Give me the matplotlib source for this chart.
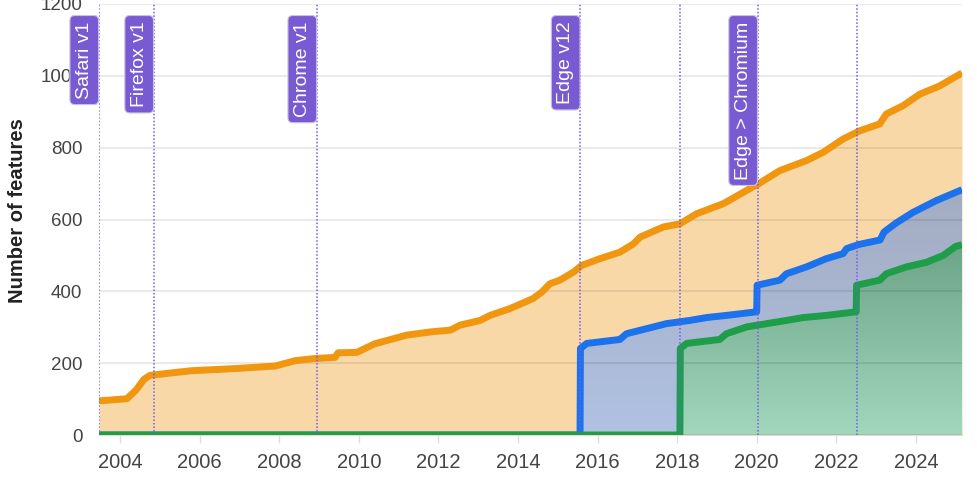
import numpy as np
import matplotlib
matplotlib.use("Agg")
import matplotlib.pyplot as plt
import matplotlib.transforms as mtrans
from matplotlib.colors import to_rgb

plt.rcParams['font.family'] = ['Liberation Sans', 'DejaVu Sans']

# Cumulative feature counts (decimal years)
orange_x = [2003.47, 2004.17, 2004.40, 2004.60, 2004.75, 2005.30, 2005.80, 2006.90,
            2007.90, 2008.40, 2008.90, 2009.40, 2009.48, 2009.95, 2010.40, 2011.20,
            2011.80, 2012.30, 2012.55, 2013.05, 2013.30, 2013.80, 2014.38, 2014.60,
            2014.80, 2015.05, 2015.40, 2015.60, 2016.06, 2016.56, 2016.90, 2017.07,
            2017.65, 2018.07, 2018.49, 2019.16, 2019.75, 2020.04, 2020.58, 2021.25,
            2021.67, 2022.17, 2022.59, 2023.09, 2023.26, 2023.68, 2024.10, 2024.60,
            2025.16]
orange_y = [95, 101, 125, 155, 166, 173, 179, 185,
            192, 207, 213, 216, 229, 230, 254, 278,
            287, 292, 306, 319, 333, 352, 380, 398,
            421, 431, 454, 472, 491, 509, 532, 551,
            579, 588, 616, 644, 681, 699, 736, 764,
            787, 824, 847, 866, 894, 917, 949, 972,
            1008]

blue_x = [2003.47, 2015.56, 2015.57, 2015.73, 2016.56, 2016.73, 2017.23, 2017.73,
          2018.32, 2018.74, 2019.24, 2020.00, 2020.01, 2020.58, 2020.75, 2021.25,
          2021.75, 2022.17, 2022.26, 2022.55, 2023.10, 2023.20, 2023.50, 2023.93,
          2024.52, 2025.16]
blue_y = [0, 0, 241, 255, 266, 282, 296, 310,
          319, 327, 333, 343, 417, 431, 449, 468,
          491, 505, 519, 530, 543, 565, 590, 620,
          653, 683]

green_x = [2003.47, 2018.07, 2018.08, 2018.24, 2019.07, 2019.24, 2019.75, 2020.25,
           2020.75, 2021.17, 2021.75, 2022.50, 2022.51, 2023.09, 2023.26, 2023.76,
           2024.27, 2024.69, 2025.00, 2025.16]
green_y = [0, 0, 241, 255, 266, 282, 301, 310,
           319, 327, 333, 343, 417, 431, 449, 468,
           481, 500, 525, 530]

event_x = [2003.47, 2004.85, 2008.95, 2015.57, 2018.08, 2020.03, 2022.53]
event_labels = ['Safari v1', 'Firefox v1', 'Chrome v1', 'Edge v12', '',
                'Edge > Chromium', '']

xticks = [2004, 2006, 2008, 2010, 2012, 2014, 2016, 2018, 2020, 2022, 2024]
yticks = [0, 200, 400, 600, 800, 1000, 1200]


def gradient_fill(ax, x, y, c_top, c_bot, z):
    poly = ax.fill_between(x, 0, y, facecolor='none', edgecolor='none', zorder=z)
    top = max(y)
    t = np.linspace(0, 1, 200)[:, None, None]
    ct, cb = np.array(to_rgb(c_top)), np.array(to_rgb(c_bot))
    img = cb[None, None, :] * (1 - t) + ct[None, None, :] * t
    im = ax.imshow(img, extent=[min(x), max(x), 0, top], origin='lower',
                   aspect='auto', zorder=z, interpolation='bilinear')
    im.set_clip_path(poly.get_paths()[0], transform=ax.transData)


fig = plt.figure(figsize=(9.78, 4.8), dpi=100)
ax = fig.add_axes([99 / 978, 45 / 480, 863 / 978, 431 / 480])

ax.fill_between(orange_x, 0, orange_y, color='#f9d8a8', lw=0, zorder=1)
gradient_fill(ax, blue_x, blue_y, '#a3acc1', '#b0c2e3', 1.1)
gradient_fill(ax, green_x, green_y, '#6da488', '#a3d7bd', 1.2)

for yv in yticks:
    ax.axhline(yv, color=(0, 0, 0, 0.09), lw=1.3, zorder=1.5)

lw = 5.0
ax.plot(orange_x, orange_y, color='#f0960f', lw=lw, solid_joinstyle='round',
        solid_capstyle='butt', zorder=3)
ax.plot(blue_x, blue_y, color='#1c72ec', lw=lw, solid_joinstyle='round',
        solid_capstyle='butt', zorder=3.1)
ax.plot(green_x, green_y, color='#1e9e48', lw=lw, solid_joinstyle='round',
        solid_capstyle='butt', zorder=3.2)

trans = mtrans.blended_transform_factory(ax.transData, ax.transAxes)
for ex, lab in zip(event_x, event_labels):
    ax.axvline(ex, color='#6f5cf0', lw=1.1, ls=(0, (1, 1.3)), zorder=4)
    if lab:
        off = mtrans.offset_copy(trans, fig=fig, x=-4.5, y=-12.5, units='points')
        ax.text(ex, 1.0, lab, transform=off, rotation=90, ha='right', va='top',
                color='white', fontsize=14, zorder=10, clip_on=False,
                bbox=dict(boxstyle='round,pad=0.3,rounding_size=0.25',
                          fc='#785ad2', ec='#c9c2e2', lw=0.8))

ax.set_xlim(2003.47, 2025.16)
ax.set_ylim(0, 1200)
ax.set_xticks(xticks)
ax.set_yticks(yticks)
ax.tick_params(axis='x', length=6, width=1, color='#dddddd', labelsize=14.5,
               labelcolor='#444444', pad=7)
ax.tick_params(axis='y', length=0, labelsize=13.5, labelcolor='#444444', pad=12)
for s in ['top', 'right', 'left']:
    ax.spines[s].set_visible(False)
ax.spines['bottom'].set_color('#dddddd')
ax.spines['bottom'].set_zorder(0.5)

fig.text(18 / 978, 1 - 211 / 480, 'Number of features', rotation=90,
         ha='center', va='center', fontsize=14.5, fontweight='bold', color='#222222')

fig.savefig('out.png', dpi=100)
